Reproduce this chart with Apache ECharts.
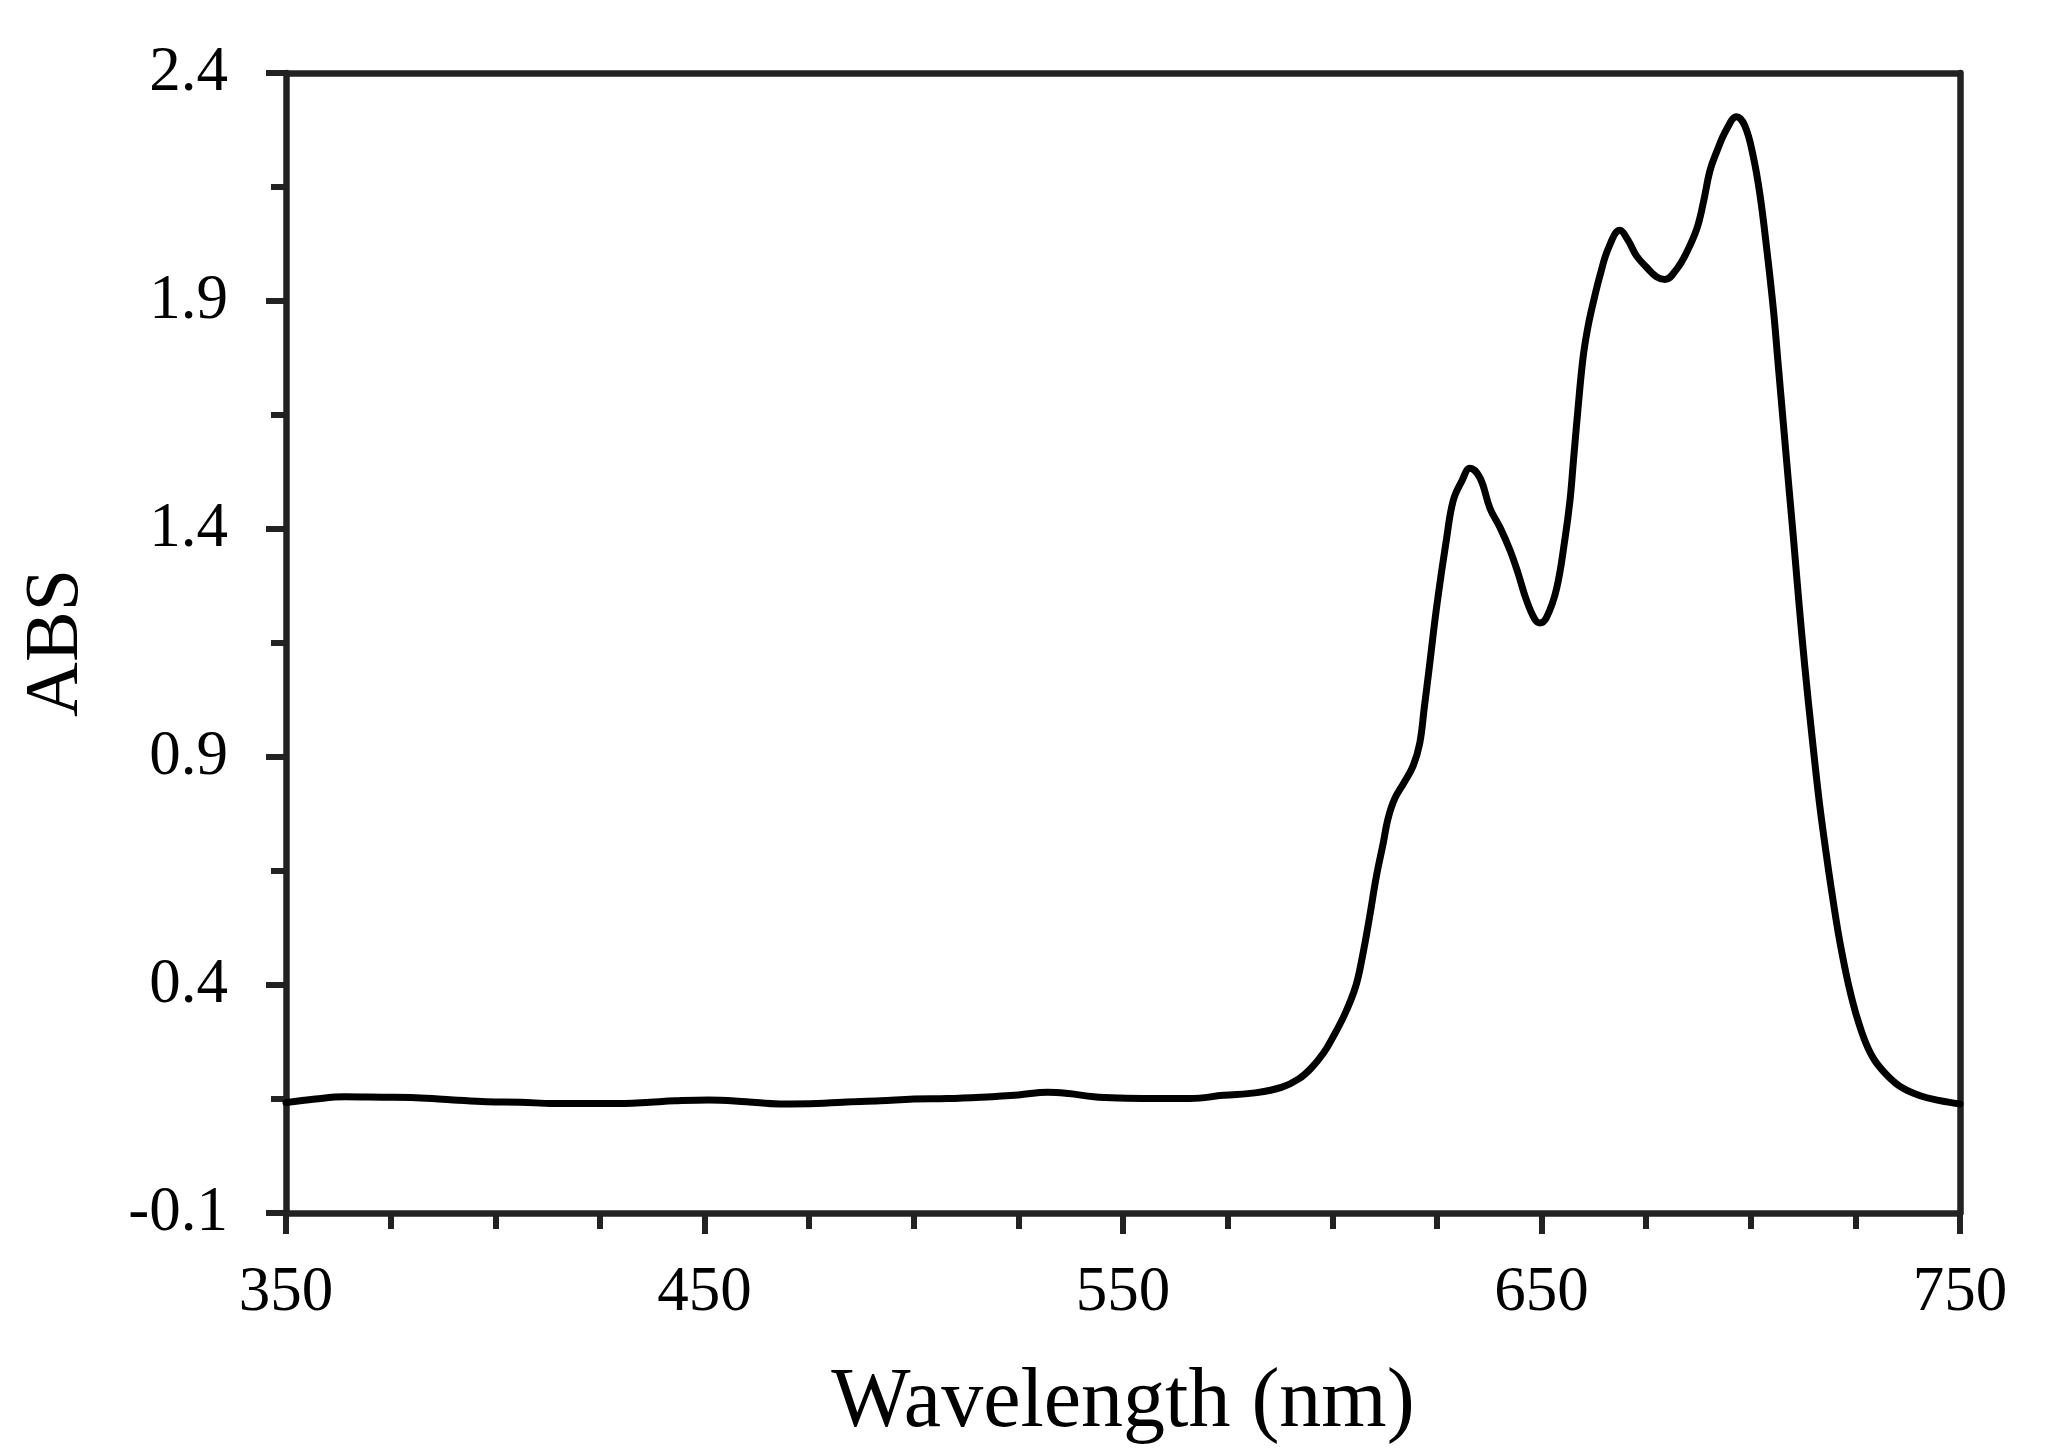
<!DOCTYPE html>
<html>
<head>
<meta charset="utf-8">
<script src="https://cdn.jsdelivr.net/npm/echarts@6/dist/echarts.min.js"></script>
<style>
html,body{margin:0;padding:0;background:#fff;}
#chart{width:2056px;height:1455px;}
</style>
</head>
<body>
<div id="chart"></div>
<script>
// Wavelength (nm)
const wavelengths = [350,357,364,373,381,390,398,406,414,423,431,437,443,451,460,468,477,483,492,500,508,516,525,532,537,543,549,557,566,574,582,588,592,595,598,600,603,605.6,607.2,608.9,610.5,612.2,613.3,614.9,617.1,619.3,620.9,622.0,623.1,625.0,627.3,628.9,630.9,632.9,635.3,637.7,640.1,642.5,644.4,646.4,648.4,649.6,651.2,653.6,655.6,656.8,657.6,658.8,660.0,661.2,662.4,664.0,666.0,668.7,670.7,672.7,675.1,677.5,679.5,682.3,684.7,687.1,688.7,690.2,691.8,694.2,696.6,698.6,700.6,702.2,703.8,705.4,706.6,707.8,709.0,710.2,711.5,712.9,714.7,716.4,718.0,719.1,720.8,721.9,723.5,725.2,727.4,729.6,732.8,736.1,740.5,744.9,750];
// Absorbance
const absorbance = [0.142,0.150,0.155,0.154,0.153,0.148,0.144,0.143,0.140,0.140,0.140,0.143,0.146,0.148,0.144,0.139,0.140,0.143,0.146,0.150,0.151,0.154,0.159,0.165,0.162,0.155,0.152,0.151,0.151,0.158,0.164,0.176,0.194,0.218,0.252,0.283,0.336,0.397,0.462,0.548,0.636,0.712,0.764,0.808,0.843,0.880,0.930,1.009,1.090,1.233,1.378,1.462,1.504,1.533,1.512,1.445,1.403,1.353,1.303,1.244,1.202,1.194,1.206,1.269,1.378,1.462,1.546,1.672,1.781,1.848,1.898,1.957,2.016,2.055,2.033,1.999,1.974,1.953,1.947,1.970,2.007,2.058,2.117,2.184,2.226,2.276,2.304,2.284,2.217,2.133,2.016,1.882,1.756,1.630,1.504,1.380,1.240,1.100,0.940,0.800,0.690,0.620,0.520,0.465,0.395,0.335,0.275,0.235,0.200,0.175,0.157,0.147,0.139];

const xTickLabels = [350,450,550,650,750];
const xMinorTicks = [375,400,425,475,500,525,575,600,625,675,700,725];
const yTickLabels = [-0.1,0.4,0.9,1.4,1.9,2.4];
const yMinorTicks = [0.15,0.65,1.15,1.65,2.15];

const xTitle = 'Wavelength (nm)';
const yTitle = 'ABS';

const FONT = '"Liberation Serif", "Times New Roman", serif';
const AX = '#222';
const LW = 6.5;

const chart = echarts.init(document.getElementById('chart'), null, {renderer:'canvas'});
const points = wavelengths.map((w,i)=>[w, absorbance[i]]);

chart.setOption({
  animation:false,
  backgroundColor:'#fff',
  grid:{left:286,right:96,top:73,bottom:242,containLabel:false},
  xAxis:[
    {type:'value',position:'bottom',min:350,max:750,
     name:xTitle,nameLocation:'middle',nameGap:149,
     nameTextStyle:{fontFamily:FONT,fontSize:84,color:'#000'},
     axisLine:{show:true,onZero:false,lineStyle:{color:AX,width:LW}},
     axisTick:{show:true,inside:false,length:21,customValues:xTickLabels,lineStyle:{color:AX,width:6}},
     axisLabel:{show:true,customValues:xTickLabels,margin:49,fontFamily:FONT,fontSize:63,color:'#000'},
     splitLine:{show:false}},
    {type:'value',position:'bottom',min:350,max:750,gridIndex:0,
     axisLine:{show:false,onZero:false},
     axisTick:{show:true,inside:false,length:16,customValues:xMinorTicks,lineStyle:{color:AX,width:6}},
     axisLabel:{show:false},splitLine:{show:false}},
    {type:'value',position:'top',min:350,max:750,gridIndex:0,
     axisLine:{show:true,onZero:false,lineStyle:{color:AX,width:LW}},
     axisTick:{show:false},axisLabel:{show:false},splitLine:{show:false}}
  ],
  yAxis:[
    {type:'value',position:'left',min:-0.1,max:2.4,
     name:yTitle,nameLocation:'middle',nameGap:191,nameRotate:90,
     nameTextStyle:{fontFamily:FONT,fontSize:76,color:'#000'},
     axisLine:{show:true,onZero:false,lineStyle:{color:AX,width:LW}},
     axisTick:{show:true,inside:false,length:20,customValues:yTickLabels,lineStyle:{color:AX,width:6}},
     axisLabel:{show:true,customValues:yTickLabels,margin:58,fontFamily:FONT,fontSize:63,color:'#000'},
     splitLine:{show:false}},
    {type:'value',position:'left',min:-0.1,max:2.4,gridIndex:0,
     axisLine:{show:false,onZero:false},
     axisTick:{show:true,inside:false,length:15,customValues:yMinorTicks,lineStyle:{color:AX,width:6}},
     axisLabel:{show:false},splitLine:{show:false}},
    {type:'value',position:'right',min:-0.1,max:2.4,gridIndex:0,
     axisLine:{show:true,onZero:false,lineStyle:{color:AX,width:LW}},
     axisTick:{show:false},axisLabel:{show:false},splitLine:{show:false}}
  ],
  series:[{
    type:'line',xAxisIndex:0,yAxisIndex:0,data:points,
    showSymbol:false,smooth:0.4,
    lineStyle:{color:'#000',width:7,cap:'round',join:'round'},
    clip:false
  }]
});
</script>
</body>
</html>
